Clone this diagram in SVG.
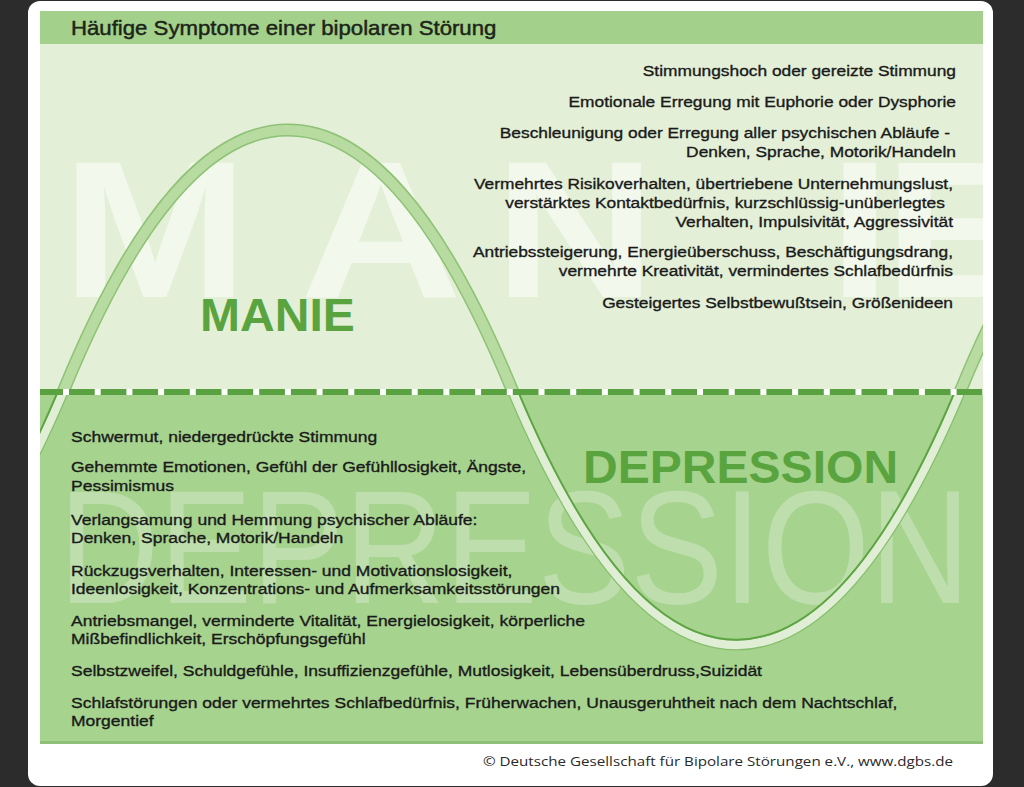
<svg xmlns="http://www.w3.org/2000/svg" width="1024" height="787" viewBox="0 0 1024 787">
<defs>
<style>
.t{font-family:"Liberation Sans",Arial,sans-serif;font-size:15.5px;fill:#1a1a1a;stroke:#1a1a1a;stroke-width:0.35px;}
.r{text-anchor:end;}
.title{font-family:"Liberation Sans",Arial,sans-serif;font-size:20px;fill:#1c2418;stroke:#1c2418;stroke-width:0.45px;}
.big{font-family:"Liberation Sans",Arial,sans-serif;font-weight:bold;font-size:46px;fill:#5aa43f;}
.ghostM{font-family:"Liberation Sans",Arial,sans-serif;font-weight:bold;font-size:195px;fill:#ffffff;fill-opacity:0.55;}
.ghostD{font-family:"Liberation Sans",Arial,sans-serif;font-size:162px;fill:#ffffff;fill-opacity:0.28;}
.foot{font-family:"Open Sans","DejaVu Sans",sans-serif;font-size:13.5px;fill:#2a2a2a;}
.w{fill:none;}
</style>
<clipPath id="topClip"><rect x="40" y="44" width="943" height="348"/></clipPath>
<clipPath id="botClip"><rect x="40" y="392" width="943" height="351"/></clipPath>
<clipPath id="botClipR"><rect x="300" y="392" width="683" height="351"/></clipPath>
<clipPath id="botClipL"><rect x="40" y="392" width="120" height="351"/></clipPath>
<path id="wave" d="M -161.5,645 C -87,645 -12,569.1 63,392 C 138,208.6 213,130 288,130 C 363,130 438,208.6 513,392 C 587.5,569.1 662,645 736.5,645 C 811,645 885.5,569.1 960,392 C 1035,208.6 1110,130 1185,130"/>
</defs>

<g id="background">
<rect width="1024" height="787" fill="#2c2c2c"/>
<rect x="28" y="1" width="965" height="785" rx="12" fill="#ffffff"/>
</g>

<g id="header">
<rect x="40" y="11" width="943" height="33" fill="#a3d08b"/>
<text class="title" transform="translate(71,35) scale(1.11,1)">Häufige Symptome einer bipolaren Störung</text>
</g>

<g id="panels">
<rect x="40" y="44" width="943" height="348" fill="#e3efd6"/>
<rect x="40" y="392" width="943" height="351" fill="#a6d38e"/>
<rect x="40" y="741" width="943" height="3" fill="#8fc077"/>
</g>

<g id="ghost-manie" clip-path="url(#topClip)">
<text class="ghostM" transform="translate(61.6,297) scale(1.15,1)">M</text>
<text class="ghostM" transform="translate(300,297) scale(1.15,1)">A</text>
<text class="ghostM" transform="translate(494,297) scale(1.15,1)">N</text>
<text class="ghostM" transform="translate(828.6,297) scale(1.15,1)">I</text>
<text class="ghostM" transform="translate(883.6,297) scale(1.15,1)">E</text>
</g>

<g id="ghost-depression" clip-path="url(#botClip)">
<text class="ghostD" transform="translate(58.8,603) scale(0.858,1)">DEPRESSION</text>
</g>

<g id="connectors">
<g clip-path="url(#topClip)">
<use href="#wave" class="w" stroke="#8ec276" stroke-width="13"/>
<use href="#wave" class="w" stroke="#b8dba1" stroke-width="10"/>
</g>
<g clip-path="url(#botClipR)">
<use href="#wave" class="w" stroke="#86bf6c" stroke-width="11"/>
<use href="#wave" class="w" stroke="#dfeed4" stroke-width="8.5"/>
<use href="#wave" class="w" stroke="#5da442" stroke-width="2" transform="translate(736.5,392) scale(0.976,0.979) translate(-736.5,-392)"/>
</g>
<g clip-path="url(#botClipL)">
<use href="#wave" class="w" stroke="#86bf6c" stroke-width="11"/>
<use href="#wave" class="w" stroke="#dfeed4" stroke-width="8.5"/>
<use href="#wave" class="w" stroke="#5da442" stroke-width="2" transform="translate(-161.5,392) scale(0.976,0.979) translate(161.5,-392)"/>
</g>
<line x1="40" y1="392" x2="983" y2="392" stroke="#ffffff" stroke-width="6"/>
<line x1="40" y1="392" x2="983" y2="392" stroke="#5aa241" stroke-width="6" stroke-dasharray="25.7 6" stroke-dashoffset="2.7"/>
</g>

<g id="label-manie">
<text class="big" transform="translate(200,331) scale(1.045,1)">MANIE</text>
</g>
<g id="label-depression">
<text class="big" transform="translate(583,483) scale(1.045,1)">DEPRESSION</text>
</g>

<g id="mania-symptoms" transform="translate(956,0) scale(1.12,1)">
<text class="t r" x="0" y="76">Stimmungshoch oder gereizte Stimmung</text>
<text class="t r" x="0" y="107">Emotionale Erregung mit Euphorie oder Dysphorie</text>
<text class="t r" x="-5.4" y="138">Beschleunigung oder Erregung aller psychischen Abläufe -</text>
<text class="t r" x="0" y="157">Denken, Sprache, Motorik/Handeln</text>
<text class="t r" x="-2.7" y="189">Vermehrtes Risikoverhalten, übertriebene Unternehmungslust,</text>
<text class="t r" x="-10" y="208">verstärktes Kontaktbedürfnis, kurzschlüssig-unüberlegtes</text>
<text class="t r" x="-2.7" y="227">Verhalten, Impulsivität, Aggressivität</text>
<text class="t r" x="-2.7" y="257">Antriebssteigerung, Energieüberschuss, Beschäftigungsdrang,</text>
<text class="t r" x="-2.7" y="276">vermehrte Kreativität, vermindertes Schlafbedürfnis</text>
<text class="t r" x="-2.7" y="308">Gesteigertes Selbstbewußtsein, Größenideen</text>
</g>

<g id="depression-symptoms" transform="translate(71,0) scale(1.13,1)">
<text class="t" x="0" y="442">Schwermut, niedergedrückte Stimmung</text>
<text class="t" x="0" y="472">Gehemmte Emotionen, Gefühl der Gefühllosigkeit, Ängste,</text>
<text class="t" x="0" y="491">Pessimismus</text>
<text class="t" x="0" y="525">Verlangsamung und Hemmung psychischer Abläufe:</text>
<text class="t" x="0" y="543.5">Denken, Sprache, Motorik/Handeln</text>
<text class="t" x="0" y="576">Rückzugsverhalten, Interessen- und Motivationslosigkeit,</text>
<text class="t" x="0" y="594.5">Ideenlosigkeit, Konzentrations- und Aufmerksamkeitsstörungen</text>
<text class="t" x="0" y="626">Antriebsmangel, verminderte Vitalität, Energielosigkeit, körperliche</text>
<text class="t" x="0" y="644.5">Mißbefindlichkeit, Erschöpfungsgefühl</text>
<text class="t" x="0" y="676">Selbstzweifel, Schuldgefühle, Insuffizienzgefühle, Mutlosigkeit, Lebensüberdruss,Suizidät</text>
<text class="t" x="0" y="708">Schlafstörungen oder vermehrtes Schlafbedürfnis, Früherwachen, Unausgeruhtheit nach dem Nachtschlaf,</text>
<text class="t" x="0" y="726">Morgentief</text>
</g>

<g id="footer">
<text class="foot" x="483" y="766" textLength="470" lengthAdjust="spacingAndGlyphs">© Deutsche Gesellschaft für Bipolare Störungen e.V., www.dgbs.de</text>
</g>
</svg>
